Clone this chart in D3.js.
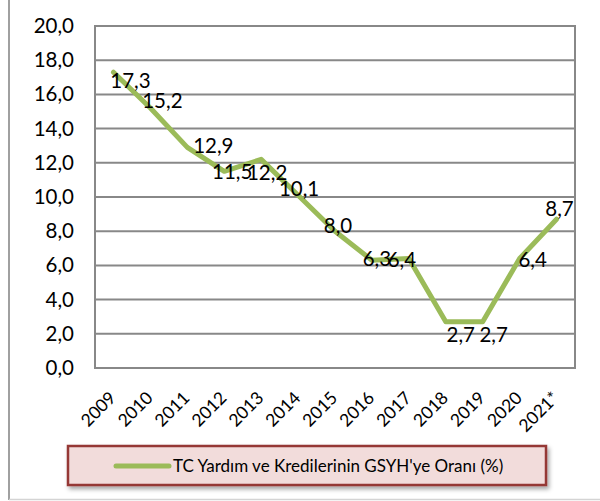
<!DOCTYPE html>
<html><head><meta charset="utf-8">
<script src="https://cdn.jsdelivr.net/npm/d3@7"></script>
<style>body{margin:0;background:#fff}svg{display:block}text{font-family:Lato,"Liberation Sans",sans-serif;fill:#000}</style>
</head><body>
<script>
const categories = ["2009","2010","2011","2012","2013","2014","2015","2016","2017","2018","2019","2020","2021*"];
const values = [17.3,15.2,12.9,11.5,12.2,10.1,8.0,6.3,6.4,2.7,2.7,6.4,8.7];
const yTicks = [0,2,4,6,8,10,12,14,16,18,20];
const seriesName = "TC Yardım ve Kredilerinin GSYH'ye Oranı (%)";
// label placement offsets (dx, dy) relative to each point
const labelOffsets = [[17,8],[12,-7],[26,-2],[8,0],[6,13],[1,-7],[3,-6],[5,-2],[-7,1],[15,13],[11,13],[13,1],[3,-11]];

const W = 600, H = 501;
const svg = d3.select("body").append("svg").attr("width", W).attr("height", H);
const defs = svg.append("defs");
const f = defs.append("filter").attr("id","sh").attr("x","-10%").attr("y","-30%").attr("width","120%").attr("height","170%");
f.append("feDropShadow").attr("dx",2).attr("dy",3).attr("stdDeviation",2).attr("flood-color","#000").attr("flood-opacity",0.35);

// outer chart frame (left + bottom visible)
svg.append("line").attr("x1",9).attr("x2",9).attr("y1",0).attr("y2",500).attr("stroke","#a0a0a0").attr("stroke-width",2);
svg.append("line").attr("x1",9).attr("x2",600).attr("y1",499.5).attr("y2",499.5).attr("stroke","#d4d4d4").attr("stroke-width",1.5);

const L = 95, R = 575, T = 26, B = 368;
const x = d3.scalePoint().domain(categories).range([L, R]).padding(0.5);
const y = d3.scaleLinear().domain([0, 20]).range([B, T]);
const fmt = v => d3.format(".1f")(v).replace(".", ",");

// gridlines
svg.append("g").selectAll("line").data(yTicks).join("line")
  .attr("x1", L).attr("x2", R).attr("y1", d => y(d)).attr("y2", d => y(d))
  .attr("stroke", "#888").attr("stroke-width", 2);
// plot border
svg.append("rect").attr("x", L).attr("y", T).attr("width", R - L).attr("height", B - T)
  .attr("fill", "none").attr("stroke", "#888").attr("stroke-width", 2);

// y axis
const yAxis = svg.append("g").attr("transform", `translate(${L-21},0)`)
  .call(d3.axisLeft(y).tickValues(yTicks).tickFormat(fmt).tickSize(0).tickPadding(0));
yAxis.select(".domain").remove();
yAxis.selectAll("text").attr("font-size", 20.5).attr("font-family", "Lato").attr("fill","#000");

// x axis labels
const xAxis = svg.append("g").attr("transform", `translate(0,${B})`)
  .call(d3.axisBottom(x).tickSize(0).tickPadding(0));
xAxis.select(".domain").remove();
xAxis.selectAll("text")
  .attr("font-size", 17.5).attr("font-family", "Lato").attr("fill","#000")
  .attr("text-anchor", "end").attr("dy", 0).attr("y", 0)
  .attr("transform", "translate(3,31) rotate(-45)");

// line
const line = d3.line().x((d, i) => x(categories[i])).y(d => y(d));
svg.append("path").datum(values).attr("d", line)
  .attr("fill", "none").attr("stroke", "#9BBB59").attr("stroke-width", 5)
  .attr("stroke-linejoin", "round").attr("stroke-linecap", "round");

// data labels
svg.append("g").selectAll("text").data(values).join("text")
  .attr("x", (d, i) => x(categories[i]) + labelOffsets[i][0])
  .attr("y", (d, i) => y(d) + labelOffsets[i][1])
  .attr("dy", "0.36em").attr("text-anchor", "middle").attr("font-size", 20.5)
  .text(fmt);

// legend
const lg = svg.append("g");
lg.append("rect").attr("x", 68).attr("y", 446).attr("width", 478).attr("height", 39)
  .attr("fill", "#F2DCDB").attr("stroke", "#953735").attr("stroke-width", 2.5).attr("filter","url(#sh)");
lg.append("line").attr("x1", 116).attr("x2", 169).attr("y1", 466).attr("y2", 466)
  .attr("stroke", "#9BBB59").attr("stroke-width", 5).attr("stroke-linecap", "round");
lg.append("text").attr("x", 173).attr("y", 466).attr("dy", "0.36em").attr("font-size", 17)
  .text(seriesName);
</script>
</body></html>
